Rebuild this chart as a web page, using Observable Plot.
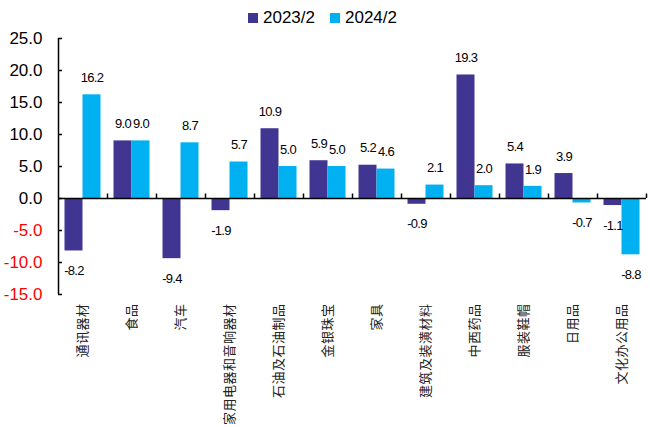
<!DOCTYPE html>
<html><head><meta charset="utf-8">
<script src="https://cdn.jsdelivr.net/npm/d3@7"></script>
<script src="https://cdn.jsdelivr.net/npm/@observablehq/plot@0.6"></script>
<style>
body{margin:0;background:#fff;font-family:"Liberation Sans",Arial,sans-serif;width:650px;height:427px;overflow:hidden;}
#legend{height:30px;display:flex;justify-content:center;align-items:flex-start;padding-right:5px;box-sizing:border-box;font-size:17px;color:#000;}
.item{display:flex;align-items:center;margin-top:8px;line-height:20px;}
.item + .item{margin-left:15px;}
.sw{width:10px;height:10px;margin-right:5px;}
#chart g[aria-label="text"] text{letter-spacing:-0.7px;}
#chart g[aria-label="x-axis tick label"] text{letter-spacing:0.5px;}
</style></head><body>
<div id="legend"></div>
<div id="chart"></div>
<script>
const categories = ["通讯器材","食品","汽车","家用电器和音响器材","石油及石油制品","金银珠宝","家具","建筑及装潢材料","中西药品","服装鞋帽","日用品","文化办公用品"];
const series = ["2023/2","2024/2"];
const values2023 = [-8.2, 9.0, -9.4, -1.9, 10.9, 5.9, 5.2, -0.9, 19.3, 5.4, 3.9, -1.1];
const values2024 = [16.2, 9.0, 8.7, 5.7, 5.0, 5.0, 4.6, 2.1, 2.0, 1.9, -0.7, -8.8];
const colors = ["#403692", "#00B0F0"];
const yTicks = [-15, -10, -5, 0, 5, 10, 15, 20, 25];

const legend = document.getElementById("legend");
series.forEach((s, i) => {
  const it = document.createElement("div");
  it.className = "item";
  it.innerHTML = `<span class="sw" style="background:${colors[i]}"></span><span>${s}</span>`;
  legend.appendChild(it);
});

const data = categories.map((c, i) => ({cat: c, a: values2023[i], b: values2024[i]}));
const half = 24.5;
const numFont = '"Liberation Sans",Arial,sans-serif';

const chart = Plot.plot({
  width: 650, height: 397,
  marginTop: 8, marginBottom: 133, marginLeft: 58, marginRight: 4,
  x: {domain: categories, paddingInner: 0, paddingOuter: 0, label: null},
  y: {domain: [-15, 25], label: null},
  style: {fontFamily: '"Liberation Sans",Arial,sans-serif', background: "#fff", color: "#000"},
  marks: [
    Plot.barY(data, {x: "cat", y: "a", fill: colors[0], insetLeft: 6.5, insetRight: 24.5}),
    Plot.barY(data, {x: "cat", y: "b", fill: colors[1], insetLeft: 24.5, insetRight: 6.5}),
    Plot.ruleY([0], {stroke: "#000", strokeWidth: 1.5}),
    Plot.ruleX(categories, {x: d => d, y1: 0, y2: 0.7, dx: half, stroke: "#000", strokeWidth: 1.5}),
    Plot.ruleX([categories[0]], {x: d => d, y1: -15, y2: 25, dx: -half, stroke: "#000", strokeWidth: 1.5}),
    Plot.axisY(yTicks, {tickSize: 4, dx: 4, tickFormat: () => "", strokeWidth: 1.5, label: null}),
    Plot.axisY(yTicks, {tickSize: 0, tickPadding: 16, tickFormat: d => d.toFixed(1), fill: d => d < 0 ? "#FF0000" : "#000", fontSize: 17, label: null}),
    Plot.axisX({tickSize: 0, tickRotate: -90, tickPadding: 9, fontSize: 13, fontFamily: '"Noto Sans CJK SC",sans-serif', fill: "#222", label: null}),
    Plot.text(data, {filter: d => d.a >= 0, x: "cat", y: "a", text: d => d.a.toFixed(1), dx: -9, dy: -17, fontSize: 13, fontFamily: numFont, fill: "#000"}),
    Plot.text(data, {filter: d => d.a < 0, x: "cat", y: "a", text: d => d.a.toFixed(1), dx: -9, dy: 20, fontSize: 13, fontFamily: numFont, fill: "#000"}),
    Plot.text(data, {filter: d => d.b >= 0, x: "cat", y: "b", text: d => d.b.toFixed(1), dx: 9, dy: -17, fontSize: 13, fontFamily: numFont, fill: "#000"}),
    Plot.text(data, {filter: d => d.b < 0, x: "cat", y: "b", text: d => d.b.toFixed(1), dx: 9, dy: 20, fontSize: 13, fontFamily: numFont, fill: "#000"})
  ]
});
document.getElementById("chart").appendChild(chart);
</script>
</body></html>
